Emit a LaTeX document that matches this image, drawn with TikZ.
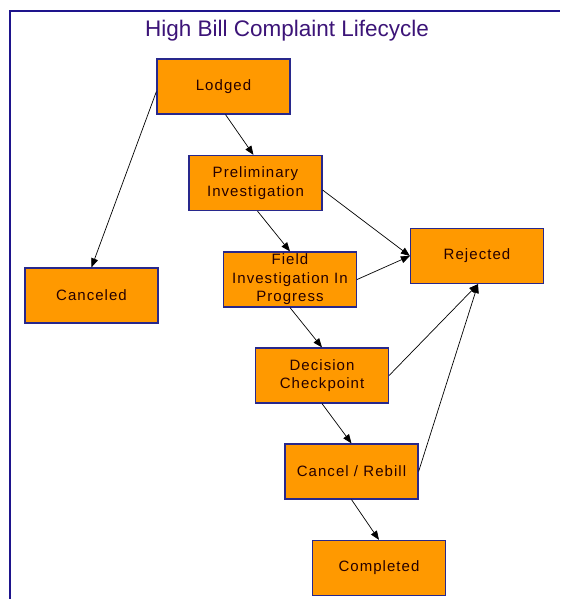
\documentclass[tikz,border=0pt]{standalone}
\usepackage{fontspec}
\setmainfont{Liberation Sans}
\newfontfamily\boxfont[LetterSpace=7]{Liberation Sans}
\usetikzlibrary{arrows.meta}
\definecolor{boxfill}{RGB}{255,153,0}
\definecolor{boxline}{RGB}{40,40,140}
\definecolor{titlecol}{RGB}{60,20,120}
\definecolor{frame}{RGB}{30,20,140}
\tikzset{
  statebox/.style={draw=boxline, line width=1.2pt, fill=boxfill, minimum width=133pt, minimum height=55pt, inner sep=1pt, align=center, font=\boxfont\fontsize{15}{18.5}\selectfont, text=black!85!red},
  flow/.style={draw=black, line width=0.7pt, -{Triangle[width=7pt,length=9pt]}}
}
\begin{document}
\begin{tikzpicture}[x=1pt,y=-1pt]
\useasboundingbox (0,0) rectangle (560,599);
\fill[white] (0,0) rectangle (560,599);
\draw[frame, line width=1.5pt] (10,599) -- (10,11) -- (560,11);
\node[text=titlecol, font=\fontsize{22.5}{24}\selectfont] (title) at (287,31) {High Bill Complaint Lifecycle};
\node[statebox] (lodged) at (223.5,86.5) {Lodged};
\node[statebox] (prelim) at (255.5,183) {Preliminary\\Investigation};
\node[statebox] (field) at (290,279.5) {Field\\Investigation In\\Progress};
\node[statebox] (rejected) at (477,256) {Rejected};
\node[statebox] (canceled) at (91.5,295.5) {Canceled};
\node[statebox] (decision) at (322,375.5) {Decision\\Checkpoint};
\node[statebox] (rebill) at (351.5,471.5) {Cancel / Rebill};
\node[statebox] (completed) at (379,568) {Completed};
\draw[flow] ([yshift=-5pt]lodged.west) -- ([xshift=0pt]canceled.north);
\draw[flow] ([xshift=2pt]lodged.south) -- ([xshift=-2pt]prelim.north);
\draw[flow] ([xshift=2pt]prelim.south) -- (field.north);
\draw[flow] ([yshift=-7pt]prelim.east) -- (rejected.west);
\draw[flow] (field.east) -- (rejected.west);
\draw[flow] (field.south) -- (decision.north);
\draw[flow] (decision.east) -- ([xshift=1pt]rejected.south);
\draw[flow] (rebill.east) -- ([xshift=1pt]rejected.south);
\draw[flow] (decision.south) -- (rebill.north);
\draw[flow] (rebill.south) -- (completed.north);
\end{tikzpicture}
\end{document}
